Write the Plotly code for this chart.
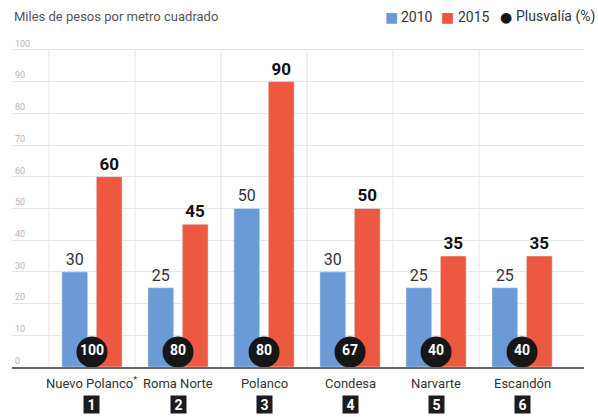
import plotly.graph_objects as go

categories = ["Nuevo Polanco<sup>*</sup>", "Roma Norte", "Polanco", "Condesa", "Narvarte", "Escandón"]
ranks = ["1", "2", "3", "4", "5", "6"]
values_2010 = [30, 25, 50, 30, 25, 25]
values_2015 = [60, 45, 90, 50, 35, 35]
plusvalia = [100, 80, 80, 67, 40, 40]
y_ticks = [0, 10, 20, 30, 40, 50, 60, 70, 80, 90, 100]

FONT = "Roboto, sans-serif"
BLUE = "#6b9bd7"
RED = "#ec5840"

W, H = 598, 417
ML, MR, MT, MB = 12, 14, 34, 50
PW = W - ML - MR
PH = H - MT - MB


def px_x(px):
    return (px - ML) / PW


def px_y(py):
    return (H - MB - py) / PH


xpos = list(range(len(categories)))

fig = go.Figure()
fig.add_trace(go.Bar(
    x=xpos, y=values_2010, name="2010", marker_color=BLUE,
    width=0.3, offset=-0.35,
    text=values_2010, textposition="outside", cliponaxis=False,
    textfont=dict(family=FONT, size=16, color="#333333"),
))
fig.add_trace(go.Bar(
    x=xpos, y=values_2015, name="2015", marker_color=RED,
    width=0.3, offset=0.05,
    text=values_2015, textposition="outside", cliponaxis=False,
    textfont=dict(family=FONT, size=17, color="#111111", weight="bold"),
))
fig.add_trace(go.Scatter(
    x=xpos, y=[4.75] * len(xpos), name="Plusvalía (%)", mode="markers+text",
    marker=dict(size=31, color="#161616"),
    text=plusvalia, textposition="middle center", cliponaxis=False,
    textfont=dict(family=FONT, size=14, color="white", weight="bold"),
))

# category dividers
for i in xpos:
    fig.add_shape(type="line", x0=i - 0.5, x1=i - 0.5, y0=0, y1=100,
                  xref="x", yref="y", line=dict(color="#e3e3e3", width=1), layer="below")

# category names and rank boxes
for i, (c, r) in enumerate(zip(categories, ranks)):
    fig.add_annotation(
        x=xpos[i], xref="x", y=px_y(383), yref="paper", yanchor="middle", text=c,
        showarrow=False, font=dict(family=FONT, size=13, color="#333333"),
    )
    fig.add_annotation(
        x=xpos[i], xref="x", y=px_y(404), yref="paper", yanchor="middle", text="<b>" + r + "</b>",
        showarrow=False, bgcolor="#1c1c1c", borderpad=0,
        font=dict(family=FONT, size=14, color="white"), width=15, height=17,
    )

# title
fig.add_annotation(
    x=px_x(12), xref="paper", xanchor="left", y=px_y(16), yref="paper", yanchor="middle",
    text="Miles de pesos por metro cuadrado", showarrow=False,
    font=dict(family=FONT, size=13, color="#555555"),
)

# legend (manual)
legend_items = [("■", BLUE, "2010", 391), ("■", RED, "2015", 448), ("●", "#161616", "Plusvalía (%)", 506)]
for sym, col, lab, sx in legend_items:
    fig.add_annotation(
        x=px_x(sx), xref="paper", xanchor="center", y=px_y(17), yref="paper", yanchor="middle",
        text=sym, showarrow=False, font=dict(family="DejaVu Sans", size=14, color=col),
    )
    fig.add_annotation(
        x=px_x(sx + 8), xref="paper", xanchor="left", y=px_y(17), yref="paper", yanchor="middle",
        text=lab, showarrow=False, font=dict(family=FONT, size=14, color="#333333"),
    )

fig.update_layout(
    width=W, height=H,
    margin=dict(l=ML, r=MR, t=MT, b=MB),
    paper_bgcolor="white", plot_bgcolor="white",
    font=dict(family=FONT, color="#444444"),
    barmode="overlay",
    showlegend=False,
)
fig.update_xaxes(
    range=[-0.93, 5.72], tickvals=xpos, showticklabels=False,
    showgrid=False, showline=True, linecolor="#666666", linewidth=1.5,
    ticks="", zeroline=False, fixedrange=True, automargin=False,
)
fig.update_yaxes(
    range=[0, 105], tickvals=y_ticks,
    ticklabelposition="inside top",
    tickfont=dict(family=FONT, size=9, color="#b5b5b5"),
    showgrid=True, gridcolor="#e6e6e6", gridwidth=1,
    zeroline=False, showline=False, ticks="", fixedrange=True, automargin=False,
)

fig.write_html("out.html", config={"displayModeBar": False},
               post_script="document.body.style.margin='0';document.body.style.overflow='hidden';")
